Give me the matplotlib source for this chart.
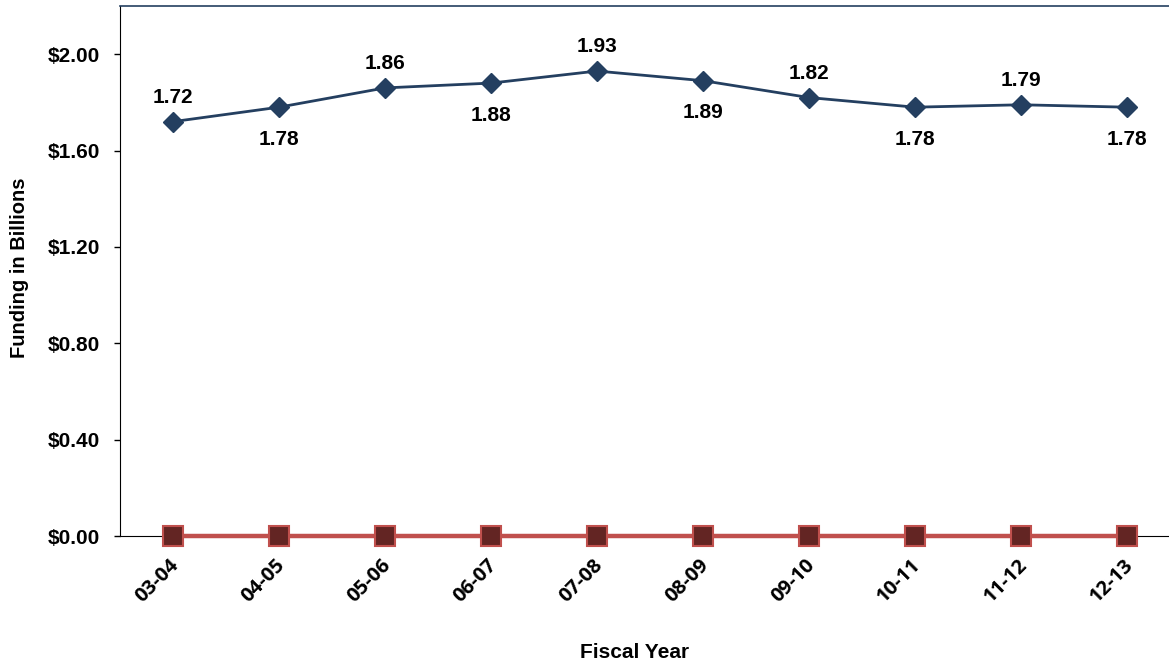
import matplotlib
matplotlib.use("Agg")
import matplotlib.pyplot as plt
import matplotlib.transforms as mtransforms

fiscal_years = ["03-04", "04-05", "05-06", "06-07", "07-08",
                "08-09", "09-10", "10-11", "11-12", "12-13"]
funding = [1.72, 1.78, 1.86, 1.88, 1.93, 1.89, 1.82, 1.78, 1.79, 1.78]
other_funding = [0, 0, 0, 0, 0, 0, 0, 0, 0, 0]
y_ticks = [0.0, 0.4, 0.8, 1.2, 1.6, 2.0]

plt.rcParams['font.family'] = ['Liberation Sans', 'DejaVu Sans']
plt.rcParams['font.weight'] = 'bold'

W, H = 1169, 666
fig = plt.figure(figsize=(W / 100, H / 100), dpi=100)
left, right, top, bottom = 120, 1180, 6, 536
ax = fig.add_axes([left / W, (H - bottom) / H, (right - left) / W, (bottom - top) / H])

x = list(range(len(fiscal_years)))

ax.plot(x, other_funding, color="#C0504D", linewidth=3.2, marker="s",
        markersize=14, markerfacecolor="#632523", markeredgecolor="#C0504D",
        markeredgewidth=1.5, zorder=3, clip_on=False)
ax.plot(x, funding, color="#243F60", linewidth=2, marker="D",
        markersize=10, markerfacecolor="#243F60", markeredgecolor="#243F60",
        zorder=4)

# value labels alternate above and below the line
for i, v in enumerate(funding):
    above = (i % 2 == 0)
    off = 17.5 if above else -23
    ax.annotate(f"{v:.2f}", (i, v), xytext=(0, off), textcoords="offset points",
                ha="center", va="center", fontsize=15, fontweight="bold")

ax.set_xlim(-0.5, len(x) - 0.5)
ax.set_ylim(0, 2.2)
ax.set_yticks(y_ticks)
ax.set_yticklabels([f"${t:.2f}" for t in y_ticks], fontsize=15, fontweight="bold")
ax.set_xticks(x)
ax.set_xticklabels(fiscal_years, rotation=45, ha="right", rotation_mode="anchor",
                   fontsize=14.5, fontweight="bold", family=["Open Sans", "DejaVu Sans"])
ax.tick_params(axis="x", length=0, pad=14)
ax.tick_params(axis="y", length=4.5, width=1, direction="out", pad=10)

shift = mtransforms.ScaledTranslation(-4 / 100, 0, fig.dpi_scale_trans)
for lbl in ax.get_xticklabels():
    lbl.set_transform(lbl.get_transform() + shift)

ax.spines["top"].set_color("#243F60")
ax.spines["top"].set_linewidth(1.2)
ax.spines["left"].set_color("black")
ax.spines["bottom"].set_color("black")
ax.spines["right"].set_visible(False)

fig.text(635 / W, 1 - 653 / H, "Fiscal Year", ha="center", va="center",
         fontsize=15, fontweight="bold")
fig.text(20 / W, 1 - 268 / H, "Funding in Billions", ha="center", va="center",
         rotation=90, fontsize=14.5, fontweight="bold")

fig.savefig("out.png", dpi=100)
